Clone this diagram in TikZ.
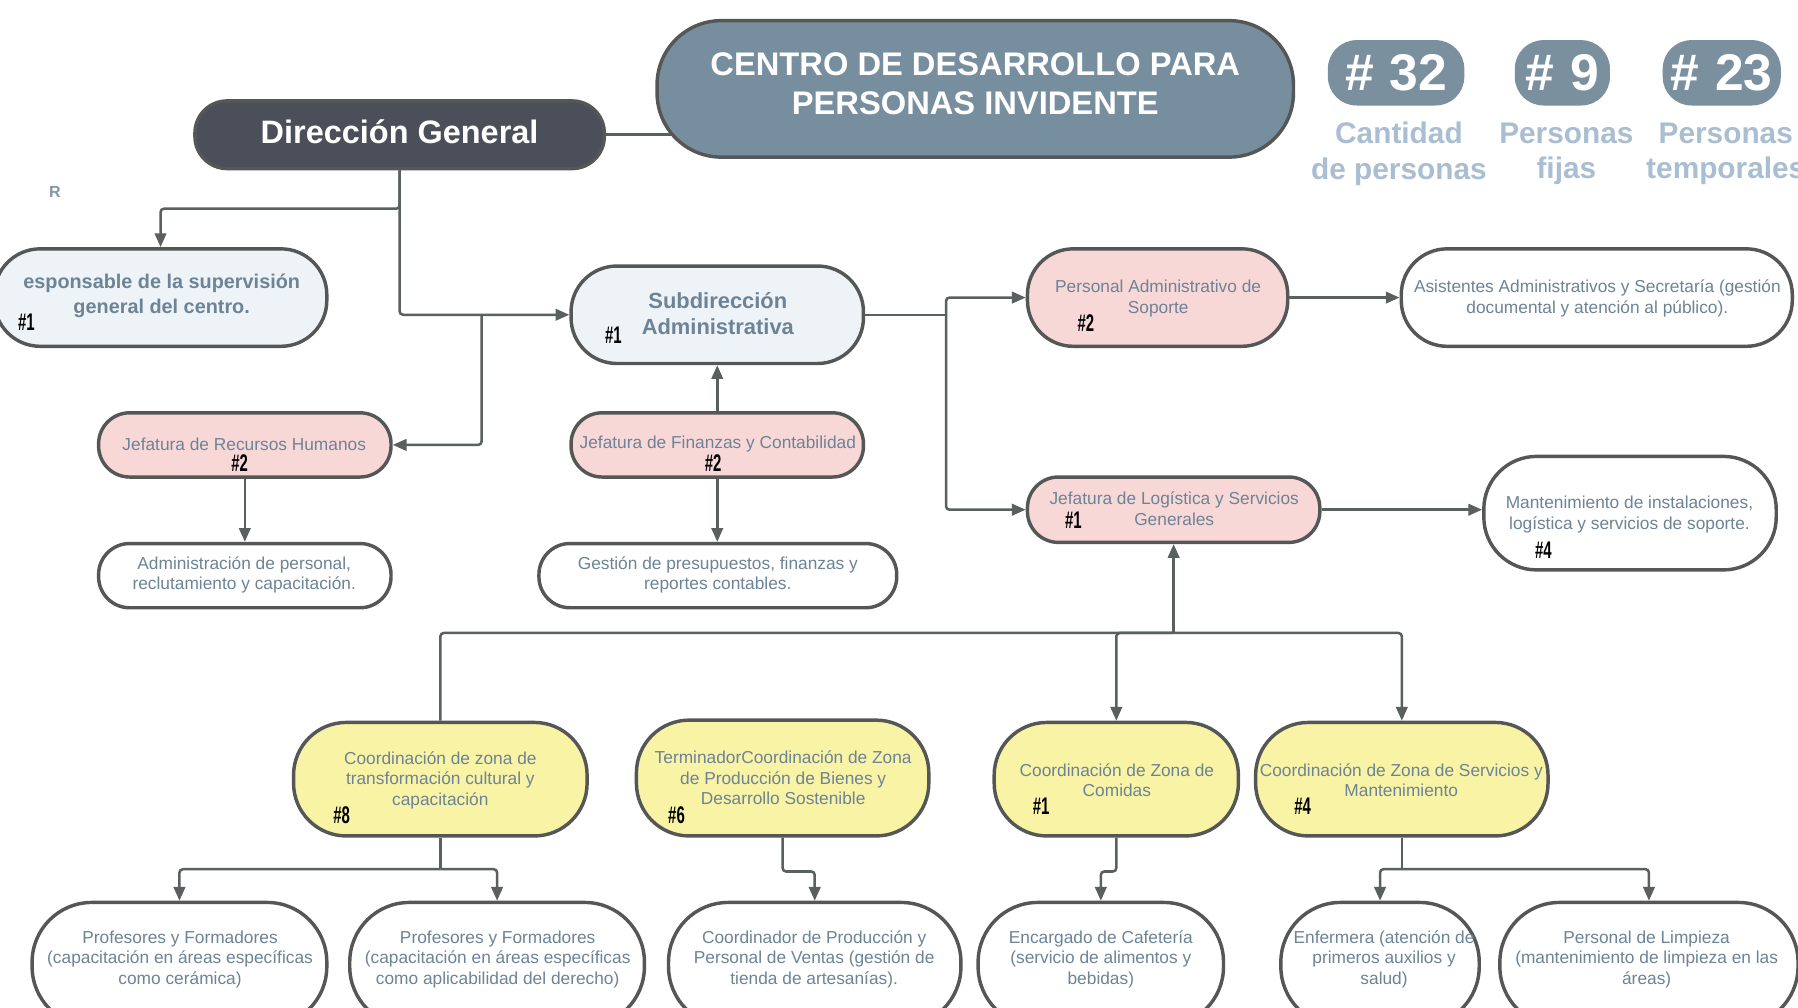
\documentclass[tikz,border=0pt]{standalone}
\usepackage{fontspec}
\setmainfont{Liberation Sans}
\newfontfamily\hashfont{Liberation Sans}[FakeStretch=0.62]
\usetikzlibrary{arrows.meta}
\definecolor{linec}{HTML}{5A5F60}
\definecolor{borderc}{HTML}{555757}
\definecolor{txtc}{HTML}{6D8396}
\definecolor{titlec}{HTML}{768E9E}
\definecolor{statc}{HTML}{7A909F}
\definecolor{statlbl}{HTML}{A9BED0}
\definecolor{dgc}{HTML}{4A4F59}
\definecolor{pinkc}{HTML}{F8D7D7}
\definecolor{bluec}{HTML}{EEF3F8}
\definecolor{yelc}{HTML}{F8F3A5}
\tikzset{
  conn/.style={draw=linec, line width=2.2pt, rounded corners=3pt},
  arr/.style={conn, -{Triangle[length=12pt,width=10pt]}},
  box/.style={draw=borderc, line width=3pt, rectangle, inner sep=0pt},
  txt/.style={text=txtc, align=center, inner sep=0pt, yshift=-1.5pt, font=\fontsize{15.1}{18}\selectfont},
  btxt/.style={text=txtc, align=center, inner sep=0pt, yshift=-1pt, font=\bfseries\fontsize{17.3}{21}\selectfont},
  hashlbl/.style={inner sep=0pt, font=\hashfont\bfseries\fontsize{21}{21}\selectfont},
  statbox/.style={fill=statc, rectangle, rounded corners=25pt, minimum height=57pt, inner sep=0pt, text=white, font=\bfseries\fontsize{45}{45}\selectfont},
  statlabel/.style={text=statlbl, align=center, inner sep=0pt, font=\bfseries\fontsize{26}{31}\selectfont},
}
\newcommand\bx[6]{\node[box,fill=#2,minimum width=#4pt,minimum height=#5pt,rounded corners=#6pt] (#1) at (#3) {};}
\begin{document}
\begin{tikzpicture}[x=1pt,y=-1pt]
\useasboundingbox (0,0) rectangle (1568,879);
\clip (0,0) rectangle (1568,879);
\fill[white] (0,0) rectangle (1568,879);

% header line first
\coordinate (tl) at (600,117.5);
\node[box,fill=dgc,minimum width=357pt,minimum height=59pt,rounded corners=28pt] (dg) at (348.5,117.5) {};
\draw[conn] (dg.east) -- (tl);
\node[box,fill=titlec,minimum width=555pt,minimum height=119pt,rounded corners=56pt] (tit) at (850.5,77.5) {};
\node[text=white,align=center,inner sep=0pt,font=\bfseries\fontsize{28.5}{34}\selectfont] (tit-t) at (850.5,73) {CENTRO DE DESARROLLO PARA\\PERSONAS INVIDENTE};
\node[text=white,inner sep=0pt,font=\bfseries\fontsize{28.3}{34}\selectfont] (dg-t) at (348.5,115) {Dirección General};

% stats
\node[statbox,minimum width=119pt] (s1) at (1217.5,63.5) {\#\hspace{0.3em}32};
\node[statbox,minimum width=83pt] (s2) at (1362.5,63.5) {\#\hspace{0.3em}9};
\node[statbox,minimum width=103pt] (s3) at (1501.5,63.5) {\#\hspace{0.3em}23};
\node[statlabel] (s1-l) at (1220,134) {Cantidad\\de personas};
\node[statlabel] (s2-l) at (1366,134) {Personas\\fijas};
\node[statlabel] (s3-l) at (1505,134) {Personas\\temporales};

\node[text=txtc!85,inner sep=0pt,font=\bfseries\fontsize{14}{14}\selectfont] (r) at (48,167) {R};

% level boxes
\bx{esp}{bluec}{140,259.5}{290}{85}{40}
\bx{sub}{bluec}{625.5,274.5}{255}{85}{40}
\bx{pa}{pinkc}{1009.5,259.5}{227}{85}{40}
\bx{asi}{white}{1392.5,259.5}{341}{85}{40}
\bx{rh}{pinkc}{213.5,388}{255}{56}{27}
\bx{fin}{pinkc}{625.5,388}{255}{56}{27}
\bx{adm}{white}{213.5,502}{255}{56}{27}
\bx{ges}{white}{626,502}{312}{56}{27}
\bx{log}{pinkc}{1023.5,444.5}{255}{57}{27}
\bx{man}{white}{1421.5,447.5}{255}{99}{46}
\bx{tra}{yelc}{384,679.5}{256}{99}{46}
\bx{ter}{yelc}{682.5,678.5}{255}{101}{46}
\bx{com}{yelc}{973.5,679.5}{213}{99}{46}
\bx{ser}{yelc}{1222.5,679.5}{255}{99}{46}
\bx{pr1}{white}{156.5,841}{257}{108}{52}
\bx{pr2}{white}{433.5,841}{257}{108}{52}
\bx{cor}{white}{710.5,841}{255}{108}{52}
\bx{enc}{white}{960,841}{214}{108}{52}
\bx{enf}{white}{1203.5,841}{173}{108}{52}
\bx{lim}{white}{1438,841}{260}{108}{52}

% texts
\node[btxt] (esp-t) at (141,257) {esponsable de la supervisión\\general del centro.};
\node[hashlbl] (esp-h) at (23,281) {\#1};
\node[btxt,font=\bfseries\fontsize{19.1}{23}\selectfont] (sub-t) at (626,272.5) {Subdirección\\Administrativa};
\node[hashlbl] (sub-h) at (535,292) {\#1};
\node[txt] (pa-t) at (1010,259) {Personal Administrativo de\\Soporte};
\node[hashlbl] (pa-h) at (947,282) {\#2};
\node[txt] (asi-t) at (1393,259) {Asistentes Administrativos y Secretaría (gestión\\documental y atención al público).};
\node[txt] (rh-t) at (213,386) {Jefatura de Recursos Humanos};
\node[hashlbl] (rh-h) at (209,404) {\#2};
\node[txt] (fin-t) at (626,386) {Jefatura de Finanzas y Contabilidad};
\node[hashlbl] (fin-h) at (622,404) {\#2};
\node[txt] (adm-t) at (213,500) {Administración de personal,\\reclutamiento y capacitación.};
\node[txt] (ges-t) at (626,500) {Gestión de presupuestos, finanzas y\\reportes contables.};
\node[txt] (log-t) at (1024,442) {Jefatura de Logística y Servicios\\Generales};
\node[hashlbl] (log-h) at (936,454) {\#1};
\node[txt] (man-t) at (1421,447) {Mantenimiento de instalaciones,\\logística y servicios de soporte.};
\node[hashlbl] (man-h) at (1346,480) {\#4};
\node[txt] (tra-t) at (384,679) {Coordinación de zona de\\transformación cultural y\\capacitación};
\node[hashlbl] (tra-h) at (298,711) {\#8};
\node[txt] (ter-t) at (683,677) {TerminadorCoordinación de Zona\\de Producción de Bienes y\\Desarrollo Sostenible};
\node[hashlbl] (ter-h) at (590,711) {\#6};
\node[txt] (com-t) at (974,679) {Coordinación de Zona de\\Comidas};
\node[hashlbl] (com-h) at (908,703) {\#1};
\node[txt] (ser-t) at (1222,679) {Coordinación de Zona de Servicios y\\Mantenimiento};
\node[hashlbl] (ser-h) at (1136,703) {\#4};
\node[txt] (pr1-t) at (157,835) {Profesores y Formadores\\(capacitación en áreas específicas\\como cerámica)};
\node[txt] (pr2-t) at (434,835) {Profesores y Formadores\\(capacitación en áreas específicas\\como aplicabilidad del derecho)};
\node[txt] (cor-t) at (710,835) {Coordinador de Producción y\\Personal de Ventas (gestión de\\tienda de artesanías).};
\node[txt] (enc-t) at (960,835) {Encargado de Cafetería\\(servicio de alimentos y\\bebidas)};
\node[txt] (enf-t) at (1207,835) {Enfermera (atención de\\primeros auxilios y\\salud)};
\node[txt] (lim-t) at (1436,835) {Personal de Limpieza\\(mantenimiento de limpieza en las\\áreas)};

% connectors
\coordinate (j1) at (348.5,182);
\draw[arr] (dg.south) -- (j1) -| (esp.north);
\draw[arr] (dg.south) |- (sub.west);
\coordinate (j2) at (420,274.5);
\draw[arr] (j2) |- (rh.east);
\draw[arr] (fin.north) -- (sub.south);
\draw[arr] (rh.south) -- (adm.north);
\draw[arr] (fin.south) -- (fin.south |- ges.north);
\coordinate (j3) at (825,274.5);
\draw[conn] (sub.east) -- (j3);
\draw[arr] (j3) |- (pa.west);
\draw[arr] (j3) |- (log.west);
\draw[arr] (pa.east) -- (asi.west);
\draw[arr] (log.east) -- (log.east -| man.west);
\coordinate (bus) at (1023.5,552);
\draw[arr] (bus) -- (log.south);
\draw[conn] (bus) -| (tra.north);
\draw[arr] (bus) -| (com.north);
\draw[arr] (bus) -| (ser.north);
\coordinate (b1) at (384,758);
\draw[conn] (tra.south) -- (b1);
\draw[arr] (b1) -| (pr1.north);
\draw[arr] (b1) -| (pr2.north);
\coordinate (b2) at (682.5,760);
\draw[arr] (ter.south) -- (b2) -| (cor.north);
\coordinate (b3) at (973.5,760);
\draw[arr] (com.south) -- (b3) -| (enc.north);
\coordinate (b4) at (1222.5,758);
\draw[conn] (ser.south) -- (b4);
\draw[arr] (b4) -| (enf.north);
\draw[arr] (b4) -| (lim.north);
\end{tikzpicture}
\end{document}
